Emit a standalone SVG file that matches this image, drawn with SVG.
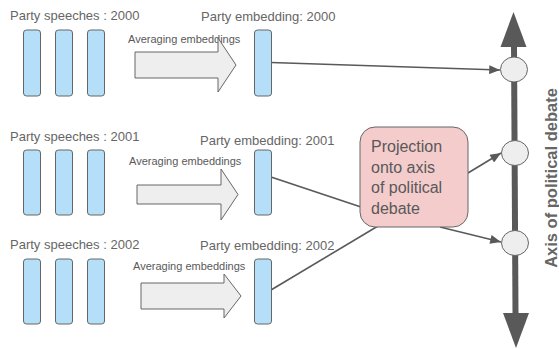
<svg xmlns="http://www.w3.org/2000/svg" width="559" height="349" viewBox="0 0 559 349">
<style>
.t{font-family:"Liberation Sans",Arial,sans-serif;font-size:13px;fill:#666}
.s{font-family:"Liberation Sans",Arial,sans-serif;font-size:11px;fill:#595959}
.b{font-family:"Liberation Sans",Arial,sans-serif;font-size:16px;fill:#595959}
.ax{font-family:"Liberation Sans",Arial,sans-serif;font-size:16.5px;font-weight:bold;fill:#666}
.bar{fill:#b5dff8;stroke:#666;stroke-width:1}
.arr{fill:#eeeeee;stroke:#666;stroke-width:1}
.node{fill:#eeeeee;stroke:#666;stroke-width:1}
.c{stroke:#595959;stroke-width:1.6;fill:none}
</style>
<defs>
<marker id="ah2" viewBox="0 0 12 10" refX="12" refY="5" markerWidth="12" markerHeight="9" markerUnits="userSpaceOnUse" orient="auto">
<path d="M0,0 L12,5 L0,10 z" fill="#595959"/>
</marker>
</defs>

<g id="connectors">
<line class="c" x1="271" y1="62.5" x2="500" y2="70" marker-end="url(#ah2)"/>
<line class="c" x1="271" y1="177" x2="361" y2="207"/>
<line class="c" x1="468" y1="173" x2="501" y2="153" marker-end="url(#ah2)"/>
<line class="c" x1="271" y1="290" x2="378" y2="226"/>
<line class="c" x1="440" y1="227" x2="501" y2="242" marker-end="url(#ah2)"/>
</g>

<g id="axis">
<line x1="514" y1="46" x2="515.5" y2="314" stroke="#595959" stroke-width="6"/>
<polygon points="513.5,12 500.5,47 526.5,47" fill="#595959"/>
<polygon points="503,313 529,313 516,348" fill="#595959"/>
<text class="ax" transform="translate(556.5,178) rotate(-90)" text-anchor="middle">Axis of political debate</text>
</g>

<g id="row2000">
<text class="t" x="10" y="20">Party speeches : 2000</text>
<rect class="bar" x="23.5" y="30" width="17" height="66" rx="3"/>
<rect class="bar" x="55.5" y="30" width="17" height="66" rx="3"/>
<rect class="bar" x="87.5" y="30" width="17" height="66" rx="3"/>
</g>
<g id="avg2000">
<text class="s" x="128" y="43">Averaging embeddings</text>
<polygon class="arr" points="135,52 218,52 218,38 236,65 218,92 218,78 135,78"/>
</g>
<g id="emb2000">
<text class="t" x="201" y="21">Party embedding: 2000</text>
<rect class="bar" x="254.5" y="30" width="17" height="66" rx="3"/>
</g>

<g id="row2001">
<text class="t" x="10" y="141">Party speeches : 2001</text>
<rect class="bar" x="23.5" y="150" width="17" height="65" rx="3"/>
<rect class="bar" x="55.5" y="150" width="17" height="65" rx="3"/>
<rect class="bar" x="87.5" y="150" width="17" height="65" rx="3"/>
</g>
<g id="avg2001">
<text class="s" x="129" y="165">Averaging embeddings</text>
<polygon class="arr" points="137,185 221,185 221,169 238,194.5 221,220 221,204 137,204"/>
</g>
<g id="emb2001">
<text class="t" x="200" y="145">Party embedding: 2001</text>
<rect class="bar" x="254.5" y="150" width="17" height="65" rx="3"/>
</g>

<g id="row2002">
<text class="t" x="10" y="249">Party speeches : 2002</text>
<rect class="bar" x="23.5" y="259" width="17" height="65" rx="3"/>
<rect class="bar" x="55.5" y="259" width="17" height="65" rx="3"/>
<rect class="bar" x="87.5" y="259" width="17" height="65" rx="3"/>
</g>
<g id="avg2002">
<text class="s" x="133" y="270">Averaging embeddings</text>
<polygon class="arr" points="141,283 224,283 224,274 241,296 224,318 224,309 141,309"/>
</g>
<g id="emb2002">
<text class="t" x="200" y="250">Party embedding: 2002</text>
<rect class="bar" x="254.5" y="259" width="17" height="65" rx="3"/>
</g>

<g id="projection">
<rect x="360" y="127" width="108" height="100" rx="15" fill="#f4cccc" stroke="#666" stroke-width="1"/>
<text class="b" x="371" y="152">Projection</text>
<text class="b" x="371" y="172.5">onto axis</text>
<text class="b" x="371" y="193">of political</text>
<text class="b" x="371" y="213.5">debate</text>
</g>

<g id="point2000"><ellipse class="node" cx="514" cy="69.5" rx="13.5" ry="12.5"/></g>
<g id="point2001"><ellipse class="node" cx="515" cy="153" rx="13.5" ry="12.5"/></g>
<g id="point2002"><ellipse class="node" cx="515" cy="243" rx="13.5" ry="12.5"/></g>
</svg>
